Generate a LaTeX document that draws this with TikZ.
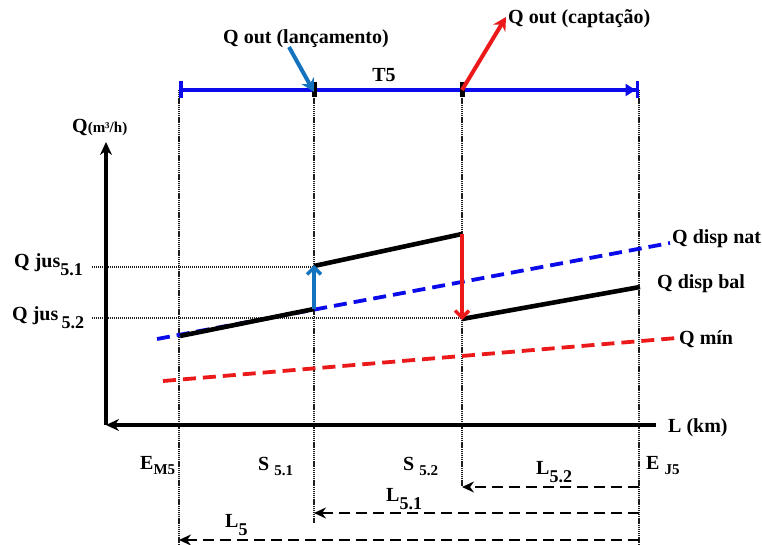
\documentclass[tikz,border=0pt]{standalone}
\usepackage{fontspec}
\setmainfont{Liberation Serif}
\usetikzlibrary{arrows.meta}
\definecolor{steel}{RGB}{20,115,190}
\definecolor{myblue}{RGB}{10,10,235}
\definecolor{myred}{RGB}{235,25,25}
\definecolor{dotgray}{RGB}{30,30,30}
\newcommand{\sub}[1]{\raisebox{-5pt}{\fontsize{15}{16}\selectfont #1}}
\newcommand{\bsub}[1]{\raisebox{-8pt}{\fontsize{18}{19}\selectfont #1}}
\begin{document}
\begin{tikzpicture}[x=1pt,y=-1pt,
  lbl/.style={font=\bfseries\fontsize{20}{22}\selectfont, inner sep=0pt},
  guide/.style={dotgray, line width=1.8pt, dash pattern=on 1.2pt off 0.7pt},
  hguide/.style={dotgray, line width=1.8pt, dash pattern=on 1.2pt off 0.8pt},
  curvebal/.style={black, line width=4.6pt},
  natline/.style={myblue, line width=3.8pt, dash pattern=on 13pt off 7pt},
  minline/.style={myred, line width=3.8pt, dash pattern=on 13pt off 7pt},
  axis/.style={black, line width=3.2pt, -{Stealth[length=13pt,width=12pt]}},
  distline/.style={black, line width=2.4pt, dash pattern=on 11pt off 6pt, -{Stealth[length=12pt,width=11pt]}},
  bluearr/.style={steel, line width=4pt, -{Straight Barb[length=7pt,width=14pt,line width=3.5pt]}},
  redarr/.style={myred, line width=3.6pt, -{Straight Barb[length=7pt,width=14pt,line width=3.5pt]}},
  tick/.style={fill=black, inner sep=0pt, minimum width=5pt, minimum height=15pt}
]
\useasboundingbox (0,0) rectangle (762,545);
% key coordinates
\coordinate (EMt) at (179,90); \coordinate (EMb) at (179,545);
\coordinate (S1t) at (314,90); \coordinate (S1b) at (314,523);
\coordinate (S2t) at (462,90); \coordinate (S2b) at (462,487);
\coordinate (EJt) at (639,90); \coordinate (EJb) at (639,545);
% vertical guides
\draw[guide] (EMt) -- (EMb);
\draw[guide] (S1t) -- (S1b);
\draw[guide] (S2t) -- (S2b);
\draw[guide] (EJt) -- (EJb);
% horizontal guides
\coordinate (H1a) at (92,267); \coordinate (H1b) at (314,267);
\coordinate (H2a) at (92,318); \coordinate (H2b) at (462,318);
\draw[hguide] (H1a) -- (H1b);
\draw[hguide] (H2a) -- (H2b);
% axes
\coordinate (O) at (106,425); \coordinate (Ytop) at (106,142); \coordinate (Xr) at (656,425);
\draw[axis] (O) -- (Ytop);
\draw[axis] (Xr) -- (O);
% curves
\coordinate (N0) at (157,339); \coordinate (N1) at (670,243);
\draw[natline] (N0) -- (N1);
\coordinate (M0) at (163,381); \coordinate (M1) at (677,338);
\draw[minline] (M0) -- (M1);
\coordinate (B0) at (180,336); \coordinate (B1) at (314,309);
\coordinate (B2) at (314,266); \coordinate (B3) at (462,234);
\coordinate (B4) at (462,319); \coordinate (B5) at (640,287);
\draw[curvebal] (B0) -- (B1);
\draw[curvebal] (B2) -- (B3);
\draw[curvebal] (B4) -- (B5);
\draw[bluearr] (B1) -- ([yshift=1pt]B2);
\draw[redarr] (B3) -- ([yshift=-1pt]B4);
% top line
\draw[myblue, line width=3.8pt, {Bar[width=17pt,line width=3.5pt]}-{Triangle[open,length=10pt,width=12pt,line width=2.5pt] Bar[width=17pt,line width=3.5pt]}] (EMt) -- (EJt);
\node[tick] (tk1) at (S1t) {};
\node[tick] (tk2) at (S2t) {};
\coordinate (LA) at (289,47);
\draw[steel, line width=4pt, -{Stealth[length=13pt,width=14pt]}] (LA) -- ([yshift=-2pt]S1t);
\coordinate (CA) at (506,17);
\draw[myred, line width=4pt, -{Stealth[length=13pt,width=14pt]}] (S2t) -- (CA);
% labels
\node[lbl] (lanc) at (306,39) {Q out (lançamento)};
\node[lbl, anchor=west] (capt) at (508,19) {Q out (captação)};
\node[lbl] (t5) at (384,75) {T5};
\node[lbl, anchor=west] (qax) at (72,128) {Q{\fontsize{15}{16}\selectfont(m³/h)}};
\node[lbl, anchor=west] (qj1) at (14,265) {Q jus\bsub{5.1}};
\node[lbl, anchor=west] (qj2) at (12,318) {Q jus\,\bsub{5.2}};
\node[lbl, anchor=west] (nat) at (672,239) {Q disp nat};
\node[lbl, anchor=west] (bal) at (657,284) {Q disp bal};
\node[lbl, anchor=west] (qmin) at (679,339) {Q mín};
\node[lbl, anchor=west] (lkm) at (668,428) {L (km)};
\node[lbl, anchor=west] (em5) at (140,466) {E\sub{M5}};
\node[lbl, anchor=west] (s51) at (258,466) {S \sub{5.1}};
\node[lbl, anchor=west] (s52) at (403,466) {S \sub{5.2}};
\node[lbl, anchor=west] (ej5) at (646,466) {E \sub{J5}};
% distances
\coordinate (D2r) at (639,487); \coordinate (D2l) at (462,487);
\coordinate (D1r) at (639,513); \coordinate (D1l) at (314,513);
\coordinate (D0r) at (639,540); \coordinate (D0l) at (179,540);
\draw[distline] (D2r) -- (D2l);
\draw[distline] (D1r) -- (D1l);
\draw[distline] (D0r) -- (D0l);
\node[lbl, anchor=west] (l52) at (536,472) {L\bsub{5.2}};
\node[lbl, anchor=west] (l51) at (386,499) {L\bsub{5.1}};
\node[lbl, anchor=west] (l5) at (225,525) {L\bsub{5}};
\end{tikzpicture}
\end{document}
